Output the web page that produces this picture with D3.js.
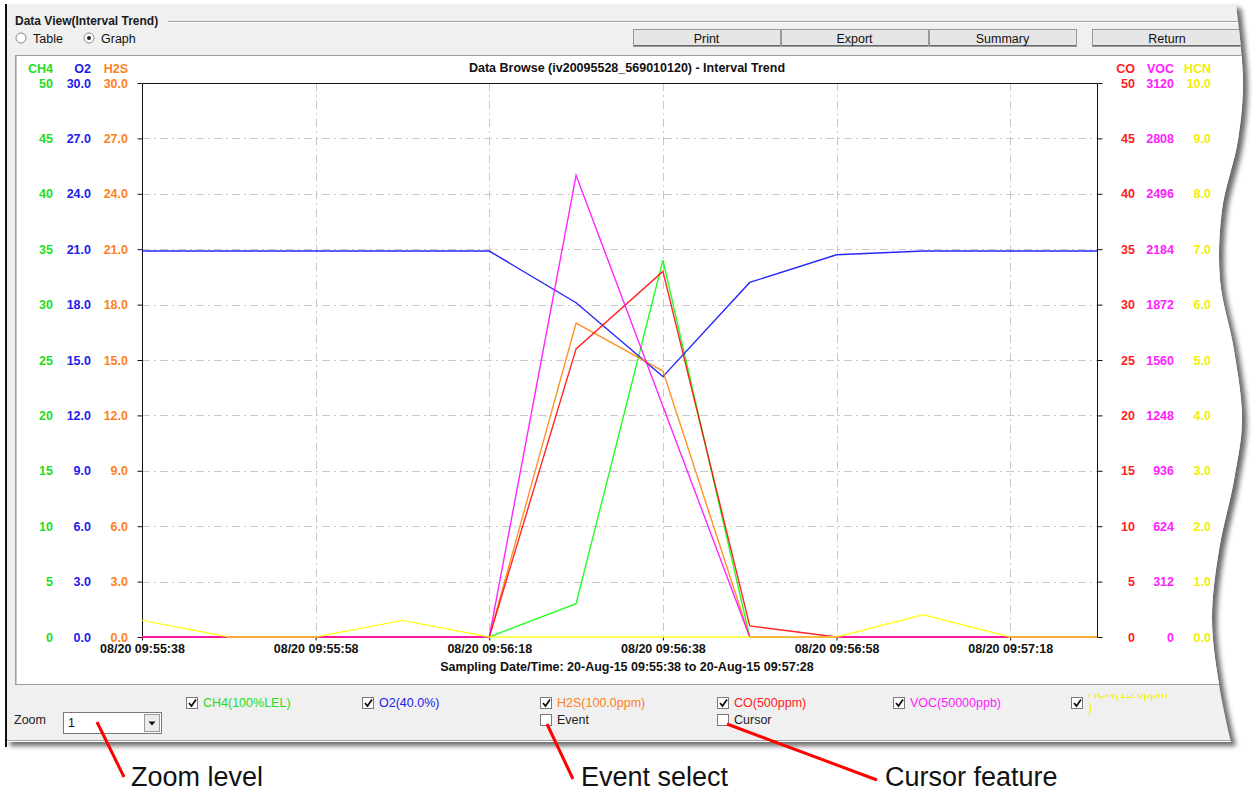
<!DOCTYPE html>
<html>
<head>
<meta charset="utf-8">
<script src="https://cdn.jsdelivr.net/npm/d3@7"></script>
<style>
  body { margin: 0; background: #fff; }
  text { font-family: "Liberation Sans", Arial, sans-serif; }
</style>
</head>
<body>
<div id="chart"></div>
<script>
// sample times (20-Aug-15), one reading every 10 s
var times = ["09:55:38", "09:55:48", "09:55:58", "09:56:08", "09:56:18", "09:56:28",
             "09:56:38", "09:56:48", "09:56:58", "09:57:08", "09:57:18", "09:57:28"];

// gas readings
var ch4 = [0, 0, 0, 0, 0, 3.0, 34.0, 0, 0, 0, 0, 0];
var o2  = [20.9, 20.9, 20.9, 20.9, 20.9, 18.1, 14.1, 19.2, 20.7, 20.9, 20.9, 20.9];
var h2s = [0, 0, 0, 0, 0, 17.0, 14.4, 0, 0, 0, 0, 0];
var co  = [0, 0, 0, 0, 0, 26.0, 33.0, 1.0, 0, 0, 0, 0];
var voc = [0, 0, 0, 0, 0, 2600, 1300, 0, 0, 0, 0, 0];
var hcn = [0.3, 0, 0, 0.3, 0, 0, 0, 0, 0, 0.4, 0, 0];

// axis maxima and legend names
var gasNames = ["CH4", "O2", "H2S", "CO", "VOC", "HCN"];
var gasMax = [50, 30, 30, 50, 3120, 10];
var legendLabels = ["CH4(100%LEL)", "O2(40.0%)", "H2S(100.0ppm)", "CO(500ppm)", "VOC(50000ppb)", "HCN(15.0ppm"];
var xTickTimes = ["09:55:38", "09:55:58", "09:56:18", "09:56:38", "09:56:58", "09:57:18"];

var colors = ["#00ff00", "#0000ff", "#ff8000", "#ff0000", "#ff00ff", "#ffff00"];
var labelColors = ["#22dd22", "#2020e8", "#ff8020", "#ff2020", "#ff20ff", "#f0f000"];

var svgWidth = 1253;
var svgHeight = 791;

var plot = { left: 142, right: 1097, top: 83, bottom: 637 };

var svg = d3.select("#chart")
  .append("svg")
  .attr("width", svgWidth)
  .attr("height", svgHeight);

var defs = svg.append("defs");
defs.append("filter").attr("id", "blur")
  .attr("x", "-5%").attr("y", "-5%").attr("width", "110%").attr("height", "110%")
  .append("feGaussianBlur").attr("stdDeviation", 2.5);

// torn right edge of the screenshot
var wave = [[1236, 4], [1243, 80], [1238, 140], [1222, 210], [1220, 280], [1234, 350],
            [1242, 420], [1234, 480], [1219, 550], [1212, 620], [1220, 690], [1231, 742]];
var waveLine = d3.line().curve(d3.curveCatmullRom)(wave);
var windowPath = "M5,4L" + waveLine.slice(1) + "L5,742Z";

defs.append("clipPath").attr("id", "winclip")
  .append("path").attr("d", windowPath);

// drop shadow
svg.append("path")
  .attr("d", windowPath)
  .attr("transform", "translate(5,4)")
  .attr("fill", "#6a6a6a")
  .attr("filter", "url(#blur)");

svg.append("path")
  .attr("d", windowPath)
  .attr("fill", "#f0f0f0");

var win = svg.append("g").attr("clip-path", "url(#winclip)");

// group box
win.append("line").attr("x1", 168).attr("x2", 1260).attr("y1", 21.5).attr("y2", 21.5).attr("stroke", "#a0a0a0");
win.append("line").attr("x1", 168).attr("x2", 1260).attr("y1", 22.5).attr("y2", 22.5).attr("stroke", "#fff");
win.append("line").attr("x1", 5).attr("x2", 1260).attr("y1", 740.5).attr("y2", 740.5).attr("stroke", "#a0a0a0");
win.append("line").attr("x1", 5).attr("x2", 1260).attr("y1", 741.5).attr("y2", 741.5).attr("stroke", "#fff");

win.append("text")
  .attr("x", 15).attr("y", 25)
  .style("font-size", "12px").style("font-weight", "bold").attr("fill", "#1a1a1a")
  .text("Data View(Interval Trend)");

// radio buttons
[["Table", 21, false], ["Graph", 89, true]].forEach(function(r) {
  win.append("circle").attr("cx", r[1]).attr("cy", 38).attr("r", 5)
    .attr("fill", "#fff").attr("stroke", "#8a8a8a");
  if (r[2]) win.append("circle").attr("cx", r[1]).attr("cy", 38).attr("r", 2).attr("fill", "#222");
  win.append("text").attr("x", r[1] + 12).attr("y", 42.5)
    .style("font-size", "12.5px").attr("fill", "#111").text(r[0]);
});

// buttons
var buttons = [["Print", 633, 147], ["Export", 781, 147], ["Summary", 929, 147], ["Return", 1092, 150]];
buttons.forEach(function(b) {
  win.append("rect").attr("x", b[1] + 0.5).attr("y", 29.5).attr("width", b[2]).attr("height", 17)
    .attr("fill", "#e6e6e6").attr("stroke", "#9a9a9a");
  win.append("line").attr("x1", b[1] + 1).attr("x2", b[1] + b[2]).attr("y1", 45.5).attr("y2", 45.5)
    .attr("stroke", "#6a6a6a");
  win.append("text").attr("x", b[1] + b[2] / 2).attr("y", 42.5)
    .attr("text-anchor", "middle").style("font-size", "12.5px").attr("fill", "#111").text(b[0]);
});

// white chart panel
win.append("rect").attr("x", 15.5).attr("y", 55.5).attr("width", 1260).attr("height", 629)
  .attr("fill", "#fff").attr("stroke", "#a0a0a0");
win.append("line").attr("x1", 16.5).attr("x2", 16.5).attr("y1", 56).attr("y2", 684).attr("stroke", "#c8c8c8");

var chartGroup = win.append("g");

// scales
var parseTime = d3.timeParse("%Y-%m-%d %H:%M:%S");
var dates = times.map(function(t) { return parseTime("2015-08-20 " + t); });

var xScale = d3.scaleTime()
  .domain([dates[0], dates[dates.length - 1]])
  .range([plot.left, plot.right]);

var yScales = gasMax.map(function(m) {
  return d3.scaleLinear().domain([0, m]).range([plot.bottom, plot.top]);
});

// each value column is split into ten equal steps
var yTicks = gasMax.map(function(m) {
  return d3.range(11).map(function(k) { return m * k / 10; });
});

var tickFormats = [d3.format("d"), d3.format(".1f"), d3.format(".1f"), d3.format("d"), d3.format("d"), d3.format(".1f")];
var columnX = [53, 91, 128, 1135, 1174, 1211];

// grid
chartGroup.append("g")
  .selectAll("line")
  .data(yTicks[0].slice(1, 10))
  .enter()
  .append("line")
  .attr("x1", plot.left).attr("x2", plot.right)
  .attr("y1", function(d) { return Math.round(yScales[0](d)) + 0.5; })
  .attr("y2", function(d) { return Math.round(yScales[0](d)) + 0.5; })
  .attr("stroke", "#c8c8c8")
  .attr("stroke-dasharray", "8,4,2,4");

var xTicks = xTickTimes.map(function(t) { return parseTime("2015-08-20 " + t); });
chartGroup.append("g")
  .selectAll("line")
  .data(xTicks.slice(1))
  .enter()
  .append("line")
  .attr("x1", function(d) { return Math.round(xScale(d)) + 0.5; })
  .attr("x2", function(d) { return Math.round(xScale(d)) + 0.5; })
  .attr("y1", plot.top).attr("y2", plot.bottom)
  .attr("stroke", "#c8c8c8")
  .attr("stroke-dasharray", "8,4,2,4");

// frame
chartGroup.append("path")
  .attr("d", "M" + (plot.left + 0.5) + "," + (plot.bottom + 0.5) + "V" + (plot.top + 0.5) +
    "H" + (plot.right + 0.5) + "V" + (plot.bottom + 0.5))
  .attr("fill", "none").attr("stroke", "#111");

// tick marks on the frame
chartGroup.append("g")
  .attr("transform", "translate(" + (plot.left + 0.5) + ",0)")
  .call(d3.axisLeft(yScales[0]).tickValues(yTicks[0]).tickSize(5).tickFormat(""))
  .call(function(g) { g.select(".domain").remove(); })
  .selectAll("line").attr("stroke", "#111");
chartGroup.append("g")
  .attr("transform", "translate(" + (plot.right + 0.5) + ",0)")
  .call(d3.axisRight(yScales[0]).tickValues(yTicks[0]).tickSize(5).tickFormat(""))
  .call(function(g) { g.select(".domain").remove(); })
  .selectAll("line").attr("stroke", "#111");

// value columns
gasNames.forEach(function(name, i) {
  var axis = chartGroup.append("g")
    .attr("transform", "translate(" + columnX[i] + ",0)")
    .call(d3.axisLeft(yScales[i]).tickValues(yTicks[i]).tickSize(0).tickPadding(0).tickFormat(tickFormats[i]));
  axis.select(".domain").remove();
  axis.selectAll("text")
    .attr("fill", labelColors[i])
    .style("font-size", "12.5px")
    .style("font-weight", "bold")
    .style("font-family", "'Liberation Sans', Arial, sans-serif");

  chartGroup.append("text")
    .attr("x", columnX[i]).attr("y", 73)
    .attr("text-anchor", "end")
    .attr("fill", labelColors[i])
    .style("font-size", "12.5px").style("font-weight", "bold")
    .text(name);
});

// x axis labels
var timeFormat = d3.timeFormat("%m/%d %H:%M:%S");
var xAxis = chartGroup.append("g")
  .attr("transform", "translate(0," + (plot.bottom + 0.5) + ")")
  .call(d3.axisBottom(xScale).tickValues(xTicks).tickSize(3).tickPadding(4).tickFormat(timeFormat));
xAxis.select(".domain").remove();
xAxis.selectAll("line").attr("stroke", "#111");
xAxis.selectAll("text")
  .attr("fill", "#111")
  .style("font-size", "12.5px").style("font-weight", "bold")
  .style("font-family", "'Liberation Sans', Arial, sans-serif");

chartGroup.append("text")
  .attr("x", 627).attr("y", 72)
  .attr("text-anchor", "middle")
  .style("font-size", "12.5px").style("font-weight", "bold").attr("fill", "#111")
  .text("Data Browse (iv20095528_569010120) - Interval Trend");

chartGroup.append("text")
  .attr("x", 627).attr("y", 671)
  .attr("text-anchor", "middle")
  .style("font-size", "12.5px").style("font-weight", "bold").attr("fill", "#111")
  .text("Sampling Date/Time: 20-Aug-15 09:55:38 to 20-Aug-15 09:57:28");

// series lines
var series = [ch4, o2, h2s, co, voc, hcn];
series.forEach(function(values, i) {
  var line = d3.line()
    .x(function(d, j) { return xScale(dates[j]); })
    .y(function(d) { return yScales[i](d); });
  chartGroup.append("path")
    .datum(values)
    .attr("d", line)
    .attr("fill", "none")
    .attr("stroke", colors[i])
    .attr("stroke-width", 1.4)
    .attr("opacity", 0.85);
});

// bottom controls
win.append("text").attr("x", 14).attr("y", 724).style("font-size", "12.5px").attr("fill", "#222").text("Zoom");
win.append("rect").attr("x", 63.5).attr("y", 712.5).attr("width", 98).attr("height", 21)
  .attr("fill", "#fff").attr("stroke", "#7a7a7a");
win.append("rect").attr("x", 144.5).attr("y", 714.5).attr("width", 15).attr("height", 17)
  .attr("fill", "#ececec").attr("stroke", "#9a9a9a");
win.append("path").attr("d", "M148.5,721.5h7l-3.5,4z").attr("fill", "#111");
win.append("text").attr("x", 68).attr("y", 727).style("font-size", "12.5px").attr("fill", "#111").text("1");

function checkbox(x, y, checked) {
  win.append("rect").attr("x", x + 0.5).attr("y", y + 0.5).attr("width", 11).attr("height", 11)
    .attr("fill", "#fff").attr("stroke", "#7a7a7a");
  if (checked) {
    win.append("path").attr("d", "M" + (x + 3) + "," + (y + 6) + "l2.5,3l4.5,-6.5")
      .attr("fill", "none").attr("stroke", "#111").attr("stroke-width", 1.8);
  }
}

var legendX = [186, 362, 540, 717, 893, 1071];
defs.append("clipPath").attr("id", "hcnclip")
  .append("rect").attr("x", 1080).attr("y", 694).attr("width", 200).attr("height", 30);

legendLabels.forEach(function(label, i) {
  checkbox(legendX[i], 697, true);
  var t = win.append("text")
    .attr("x", legendX[i] + 17)
    .attr("y", i === 5 ? 698 : 707)
    .style("font-size", "12.5px")
    .attr("fill", labelColors[i])
    .text(label);
  if (i === 5) t.attr("clip-path", "url(#hcnclip)");
});
win.append("text").attr("x", 1088).attr("y", 712).style("font-size", "12.5px")
  .attr("fill", labelColors[5]).text(")");

checkbox(540, 714, false);
win.append("text").attr("x", 557).attr("y", 724).style("font-size", "12.5px").attr("fill", "#222").text("Event");
checkbox(717, 714, false);
win.append("text").attr("x", 734).attr("y", 724).style("font-size", "12.5px").attr("fill", "#222").text("Cursor");

// dark left edge of the screenshot
svg.append("line").attr("x1", 6).attr("x2", 6).attr("y1", 4).attr("y2", 747)
  .attr("stroke", "#111").attr("stroke-width", 2);

// callouts
var callouts = [
  { from: [97, 722], to: [124, 777], text: "Zoom level", tx: 131 },
  { from: [547, 724], to: [573, 779], text: "Event select", tx: 581 },
  { from: [727, 724], to: [877, 780], text: "Cursor feature", tx: 885 }
];
callouts.forEach(function(c) {
  svg.append("line")
    .attr("x1", c.from[0]).attr("y1", c.from[1])
    .attr("x2", c.to[0]).attr("y2", c.to[1])
    .attr("stroke", "#ff0000").attr("stroke-width", 3);
  svg.append("text")
    .attr("x", c.tx).attr("y", 786)
    .style("font-size", "27px").attr("fill", "#111")
    .text(c.text);
});
</script>
</body>
</html>
